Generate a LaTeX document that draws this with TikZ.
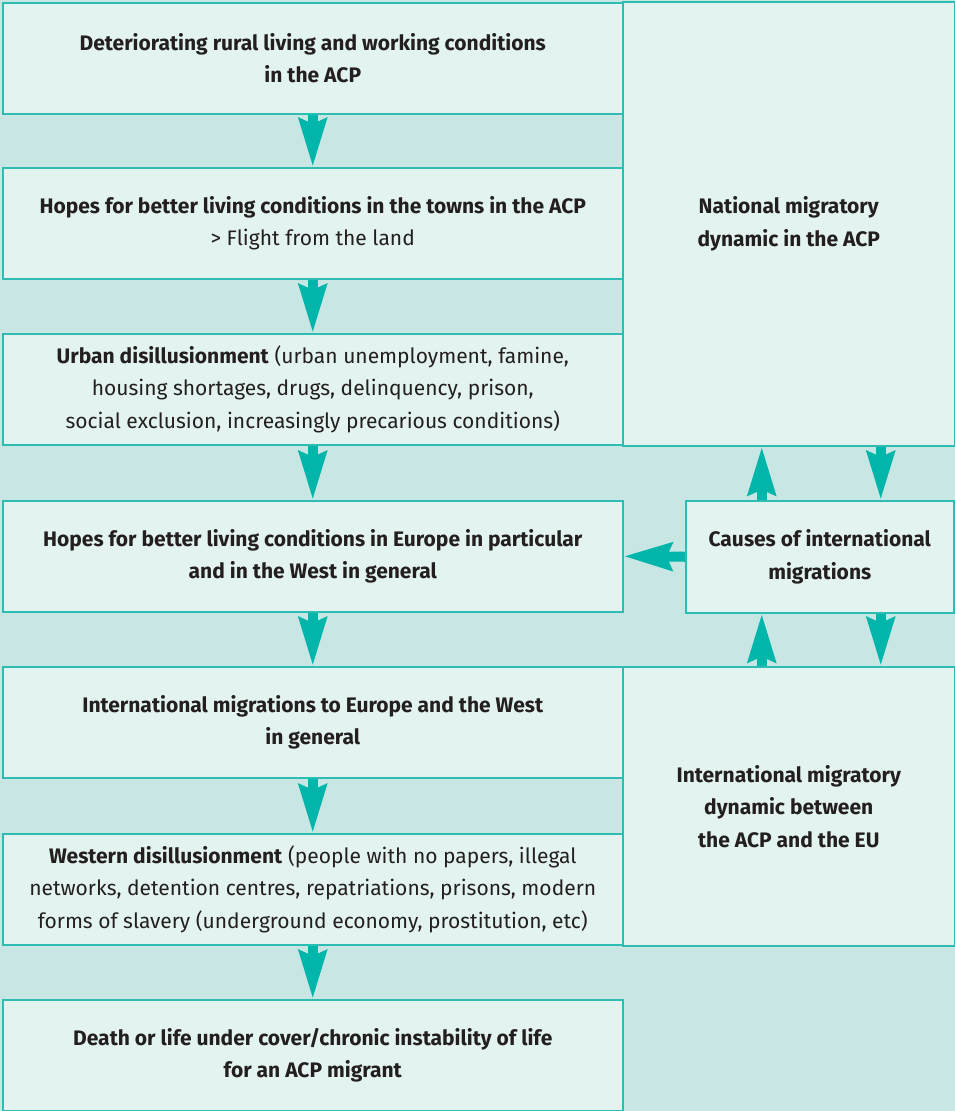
\documentclass[tikz,border=0pt]{standalone}
\usepackage{fontspec}
\setmainfont{Fira Sans}
\usetikzlibrary{arrows.meta}
\definecolor{bg}{HTML}{C8E6E4}
\definecolor{boxfill}{HTML}{E3F3F0}
\definecolor{boxline}{HTML}{2DBDB2}
\definecolor{arrowc}{HTML}{00B5A9}
\definecolor{txt}{HTML}{231F20}
\begin{document}
\begin{tikzpicture}[x=1pt,y=-1pt,
 box/.style={draw=boxline, fill=boxfill, line width=1.5pt, anchor=north west, inner sep=0pt, align=center, text=txt, font=\fontsize{21}{32.5}\selectfont},
 leftbox/.style={box, minimum width=620pt, minimum height=111pt},
 arr/.style={draw=arrowc, line width=10pt, -{Stealth[length=48pt,width=27pt,inset=5pt]}}]
\fill[bg] (0,0) rectangle (955,1111);
\useasboundingbox (0,0) rectangle (955,1111);
% right-hand boxes
\node[box, minimum width=332pt, minimum height=444pt] (nat) at (622,1) {\bfseries National migratory\\\bfseries dynamic in the ACP};
\node[box, minimum width=332pt, minimum height=279pt] (intl) at (622,666) {\bfseries International migratory\\\bfseries dynamic between\\\bfseries the ACP and the EU};
\node[box, minimum width=268pt, minimum height=112pt] (causes) at (685,500) {\bfseries Causes of international\\\bfseries migrations};
% left-hand chain
\node[leftbox] (b1) at (2,2) {\bfseries Deteriorating rural living and working conditions\\\bfseries in the ACP};
\node[leftbox] (b2) at (2,167) {\bfseries Hopes for better living conditions in the towns in the ACP\\> Flight from the land};
\node[leftbox] (b3) at (2,333) {\textbf{Urban disillusionment} (urban unemployment, famine,\\housing shortages, drugs, delinquency, prison,\\social exclusion, increasingly precarious conditions)};
\node[leftbox] (b4) at (2,500) {\bfseries Hopes for better living conditions in Europe in particular\\\bfseries and in the West in general};
\node[leftbox] (b5) at (2,666) {\bfseries International migrations to Europe and the West\\\bfseries in general};
\node[leftbox] (b6) at (2,833) {\textbf{Western disillusionment} (people with no papers, illegal\\networks, detention centres, repatriations, prisons, modern\\forms of slavery (underground economy, prostitution, etc)};
\node[leftbox] (b7) at (2,999) {\bfseries Death or life under cover/chronic instability of life\\\bfseries for an ACP migrant};
% arrows
\draw[arr] (b1.south) -- (b2.north);
\draw[arr] (b2.south) -- (b3.north);
\draw[arr] (b3.south) -- (b4.north);
\draw[arr] (b4.south) -- (b5.north);
\draw[arr] (b5.south) -- (b6.north);
\draw[arr] (b6.south) -- (b7.north);
\draw[arr] (causes.west) -- (b4.east);
\draw[arr] ([xshift=-58pt]causes.north) -- ([xshift=-58pt]causes.north |- nat.south);
\draw[arr] ([xshift=61pt]causes.north |- nat.south) -- ([xshift=61pt]causes.north);
\draw[arr] ([xshift=-58pt]causes.south |- intl.north) -- ([xshift=-58pt]causes.south);
\draw[arr] ([xshift=61pt]causes.south) -- ([xshift=61pt]causes.south |- intl.north);
\end{tikzpicture}
\end{document}
